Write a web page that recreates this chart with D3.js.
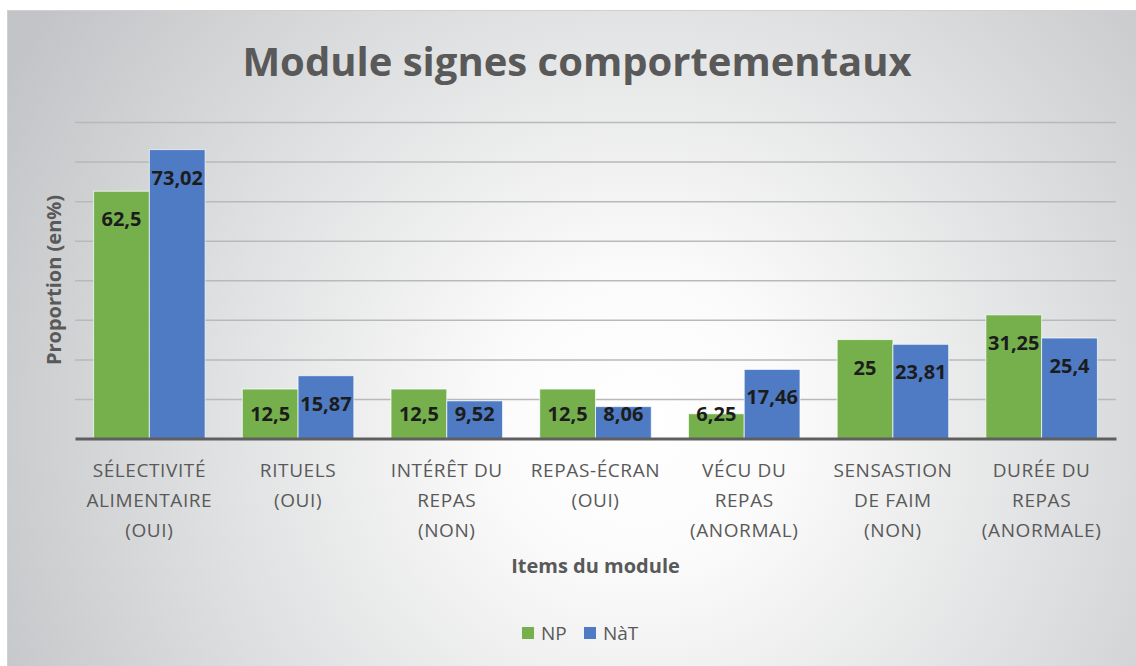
<!DOCTYPE html>
<html>
<head>
<meta charset="utf-8">
<script src="https://cdn.jsdelivr.net/npm/d3@7"></script>
<style>
  body { margin: 0; background: #ffffff; }
  svg { display: block; font-family: "Open Sans", sans-serif; }
</style>
</head>
<body>
<div id="chart"></div>
<script>
// data
let categories = [
	'SÉLECTIVITÉ\nALIMENTAIRE\n(OUI)',
	'RITUELS\n(OUI)',
	'INTÉRÊT DU\nREPAS\n(NON)',
	'REPAS-ÉCRAN\n(OUI)',
	'VÉCU DU\nREPAS\n(ANORMAL)',
	'SENSASTION\nDE FAIM\n(NON)',
	'DURÉE DU\nREPAS\n(ANORMALE)'
]
let seriesNames = ['NP', 'NàT']
let npValues = [62.5, 12.5, 12.5, 12.5, 6.25, 25, 31.25]
let natValues = [73.02, 15.87, 9.52, 8.06, 17.46, 23.81, 25.4]
let gridTicks = [10, 20, 30, 40, 50, 60, 70, 80]

let colors = { 'NP': '#75b04d', 'NàT': '#4e7bc3' }
let textGray = '#595959'

let W = 1136, H = 666
let plot = { left: 75, right: 1116, top: 122, bottom: 438.5 }

let svg = d3.select('#chart').append('svg')
	.attr('width', W)
	.attr('height', H)

let defs = svg.append('defs')
let grad = defs.append('radialGradient')
	.attr('id', 'bg')
	.attr('gradientUnits', 'userSpaceOnUse')
	.attr('cx', 640).attr('cy', 420).attr('r', 720)
grad.append('stop').attr('offset', '0').attr('stop-color', '#ffffff')
grad.append('stop').attr('offset', '0.2').attr('stop-color', '#fbfbfb')
grad.append('stop').attr('offset', '0.6').attr('stop-color', '#dfe0e1')
grad.append('stop').attr('offset', '1').attr('stop-color', '#c3c4c7')

// chart area background
svg.append('rect')
	.attr('x', 7).attr('y', 10)
	.attr('width', W - 7).attr('height', H - 10)
	.attr('fill', 'url(#bg)')
svg.append('line')
	.attr('x1', 7).attr('x2', W).attr('y1', 10.5).attr('y2', 10.5)
	.attr('stroke', '#d0d0d0').attr('stroke-width', 1)
svg.append('line')
	.attr('x1', 7.5).attr('x2', 7.5).attr('y1', 10).attr('y2', H)
	.attr('stroke', '#d0d0d0').attr('stroke-width', 1)

let rows = categories.map(function(c, i) {
	return { cat: c, values: [
		{ key: 'NP', value: npValues[i] },
		{ key: 'NàT', value: natValues[i] }
	] }
})

let x0 = d3.scaleBand()
	.domain(categories)
	.range([plot.left, plot.right])
	.paddingInner(0.25)
	.paddingOuter(0.125)

let x1 = d3.scaleBand()
	.domain(seriesNames)
	.range([0, x0.bandwidth()])

let y = d3.scaleLinear()
	.domain([0, 80])
	.range([plot.bottom, plot.top])

// gridlines
svg.append('g')
	.attr('transform', 'translate(' + plot.left + ',0)')
	.call(d3.axisLeft(y).tickValues(gridTicks).tickSize(-(plot.right - plot.left)).tickFormat(''))
	.call(function(g) {
		g.select('.domain').remove()
		g.selectAll('.tick line').attr('stroke', '#b8b9bb').attr('stroke-width', 1.5)
	})

// bars
let groups = svg.selectAll('.grp')
	.data(rows)
	.enter()
	.append('g')
	.attr('class', 'grp')
	.attr('transform', function(d) { return 'translate(' + x0(d.cat) + ',0)' })

groups.selectAll('rect')
	.data(function(d) { return d.values })
	.enter()
	.append('rect')
	.attr('x', function(d) { return x1(d.key) })
	.attr('y', function(d) { return y(d.value) })
	.attr('width', x1.bandwidth())
	.attr('height', function(d) { return y(0) - y(d.value) })
	.attr('fill', function(d) { return colors[d.key] })
	.attr('stroke', 'rgba(255,255,255,0.7)')
	.attr('stroke-width', 1)

// value labels, inside end
groups.selectAll('text')
	.data(function(d) { return d.values })
	.enter()
	.append('text')
	.attr('x', function(d) { return x1(d.key) + x1.bandwidth() / 2 })
	.attr('y', function(d) { return Math.min(y(d.value) + 28, y(0) - 25) })
	.attr('dy', '0.35em')
	.attr('text-anchor', 'middle')
	.attr('font-size', 20)
	.attr('font-weight', 'bold')
	.attr('fill', '#1c1c1c')
	.text(function(d) { return String(d.value).replace('.', ',') })

// baseline axis
svg.append('g')
	.attr('transform', 'translate(0,' + y(0) + ')')
	.call(d3.axisBottom(x0).tickSize(0).tickFormat(''))
	.call(function(g) {
		g.select('.domain').attr('stroke', '#5f5f5f').attr('stroke-width', 3)
	})

// category labels
let catLabels = svg.selectAll('.cat')
	.data(categories)
	.enter()
	.append('text')
	.attr('class', 'cat')
	.attr('text-anchor', 'middle')
	.attr('font-size', 19)
	.attr('letter-spacing', 0.6)
	.attr('fill', textGray)
catLabels.each(function(c) {
	let t = d3.select(this)
	c.split('\n').forEach(function(line, i) {
		t.append('tspan')
			.attr('x', x0(c) + x0.bandwidth() / 2)
			.attr('y', 477 + i * 30)
			.text(line)
	})
})

// title
svg.append('text')
	.attr('x', 577)
	.attr('y', 76)
	.attr('text-anchor', 'middle')
	.attr('font-size', 40)
	.attr('font-weight', 'bold')
	.attr('fill', textGray)
	.text('Module signes comportementaux')

// axis titles
svg.append('text')
	.attr('transform', 'translate(61,280) rotate(-90)')
	.attr('text-anchor', 'middle')
	.attr('font-size', 20)
	.attr('font-weight', 'bold')
	.attr('fill', textGray)
	.text('Proportion (en%)')

svg.append('text')
	.attr('x', (plot.left + plot.right) / 2)
	.attr('y', 573)
	.attr('text-anchor', 'middle')
	.attr('font-size', 20)
	.attr('font-weight', 'bold')
	.attr('fill', textGray)
	.text('Items du module')

// legend
let legend = svg.append('g')
let legendX = [522, 584]
seriesNames.forEach(function(s, i) {
	legend.append('rect')
		.attr('x', legendX[i]).attr('y', 627)
		.attr('width', 12).attr('height', 12)
		.attr('fill', colors[s])
	legend.append('text')
		.attr('x', legendX[i] + 19)
		.attr('y', 640)
		.attr('font-size', 19)
		.attr('fill', textGray)
		.text(s)
})
</script>
</body>
</html>
